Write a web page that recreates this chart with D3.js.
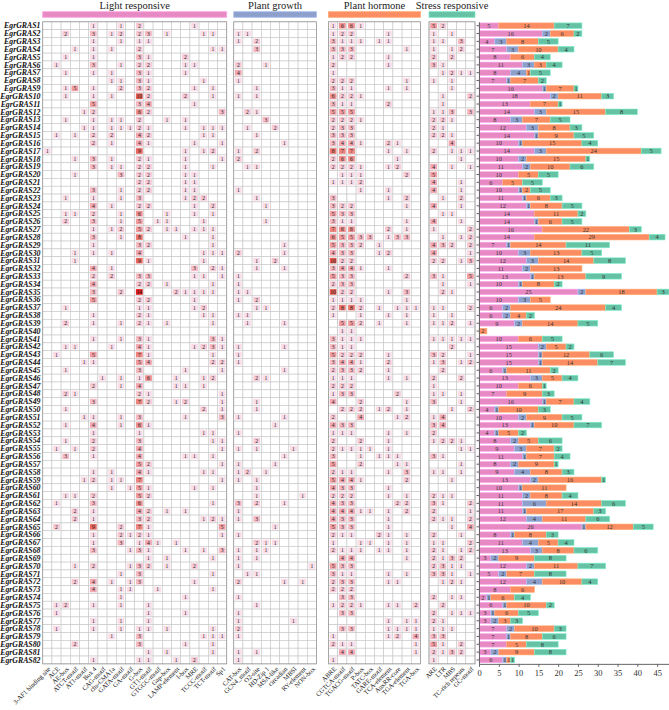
<!DOCTYPE html>
<html>
<head>
<meta charset="utf-8">
<title>EgrGRAS cis-acting elements</title>
<script src="https://d3js.org/d3.v7.min.js"></script>
<style>
  body { margin: 0; background: #fff; }
  svg { display: block; font-family: "Liberation Serif", "Times New Roman", serif; }
  .gene { font-size: 7.8px; font-weight: bold; font-style: italic; fill: #111; }
  .cnt { font-size: 5.6px; fill: #222; }
  .elem { font-size: 6.6px; fill: #111; }
  .head { font-size: 10.5px; fill: #222; }
  .seg { font-size: 6.4px; fill: #333; }
  .axis text { font-family: "Liberation Serif", serif; font-size: 8.5px; fill: #333; }
  .axis path, .axis line { stroke: #666; }
</style>
</head>
<body>
<div id="chart"></div>
<script>
// gene names (rows)
var genes = d3.range(1, 83).map(function(i) { return "EgrGRAS" + i; });

// cis-element names (columns) for each group
var groupNames = ["Light responsive", "Plant growth", "Plant hormone", "Stress responsive"];
var lightElements = ["3-AF1 binding site", "ACE", "AE-box", "ATCT-motif", "AT1-motif", "Box 4", "CAG-motif",
  "chs-CMA1a", "GATA-motif", "GA-motif", "G-box", "GT1-motif", "GTGGC-motif", "Gap-box", "LAMP-element",
  "I-box", "MRE", "TCCC-motif", "TCT-motif", "Sp1"];
var growthElements = ["CAT-box", "GCN4_motif", "O2-site", "HD-Zip 1", "MSA-like", "circadian", "MBSI",
  "RY-element", "NON-box"];
var hormoneElements = ["ABRE", "CGTCA-motif", "TGACG-motif", "P-box", "TATC-box", "GARE-motif",
  "TCA-element", "AuxRR-core", "TGA-element", "TGA-box"];
var stressElements = ["ARE", "LTR", "MBS", "TC-rich repeats", "GC-motif"];

// element counts per gene, one row per gene
var lightCounts = [
[0,0,0,0,0,1,0,0,1,0,2,0,0,0,0,0,1,0,0,0],[0,0,2,0,0,3,0,1,2,0,2,3,0,1,0,0,0,1,1,0],
[0,0,0,0,0,1,0,0,1,0,1,1,0,0,0,0,0,0,0,0],[0,0,0,1,0,1,0,1,0,0,2,0,0,0,0,0,0,0,1,1],
[0,0,1,0,0,1,0,0,0,0,3,1,0,0,0,2,0,0,0,0],[0,1,0,0,0,3,0,0,1,0,2,2,0,0,0,1,1,0,0,0],
[0,0,1,0,0,1,0,1,0,0,3,1,0,0,0,1,0,0,0,0],[0,0,0,0,0,0,0,1,1,0,3,1,0,0,0,0,0,1,0,0],
[0,0,1,5,0,1,0,0,2,0,3,2,0,0,0,0,1,0,1,0],[0,0,1,0,0,1,0,1,0,0,10,2,0,0,0,2,0,0,1,0],
[0,0,0,0,0,5,0,0,0,0,3,4,0,0,0,0,1,0,0,0],[0,0,0,0,1,2,0,0,0,0,6,2,0,0,0,0,0,0,0,3],
[0,0,1,0,0,1,0,1,1,0,2,0,0,1,0,1,0,0,0,0],[0,0,0,0,1,1,0,1,1,1,2,1,0,0,0,1,0,1,1,1],
[0,1,0,1,0,2,0,2,0,0,4,2,0,0,0,0,0,1,1,0],[0,0,0,0,0,2,0,1,0,0,4,1,0,0,0,0,1,0,0,1],
[1,0,0,0,0,0,0,0,0,0,9,0,0,0,0,1,0,1,2,0],[0,0,0,1,0,3,0,1,0,0,2,1,0,0,0,1,0,0,0,1],
[0,0,0,0,0,3,0,1,1,0,2,2,0,0,0,1,0,0,1,0],[0,0,0,1,0,0,0,0,3,0,2,2,0,0,0,1,1,0,0,0],
[0,0,0,0,0,0,0,0,0,0,2,2,0,0,0,1,1,0,0,0],[0,0,0,0,0,3,0,0,1,0,2,2,0,0,0,1,1,0,0,0],
[0,0,1,0,0,1,0,0,1,0,3,0,0,0,0,1,2,2,0,0],[0,0,0,0,0,4,0,1,0,0,2,2,0,0,0,0,1,0,2,0],
[0,0,1,1,0,2,0,0,1,0,6,0,0,1,0,0,1,0,1,0],[0,0,2,0,0,3,0,0,1,0,5,0,1,1,0,0,0,1,0,0],
[0,0,0,0,0,1,0,1,2,0,5,2,0,1,1,0,1,1,1,0],[0,0,0,0,0,3,0,0,1,0,8,0,0,0,0,1,0,0,1,0],
[0,0,0,0,0,1,0,0,0,0,3,2,0,0,0,0,0,0,1,0],[0,0,0,1,0,1,0,1,0,0,4,0,0,0,0,0,0,1,1,1],
[0,0,0,1,0,0,0,0,0,0,9,1,0,0,0,0,0,1,0,0],[0,0,0,0,0,4,0,1,0,0,0,0,0,0,0,0,3,0,2,1],
[0,0,0,0,0,2,0,2,0,0,3,3,0,0,0,0,1,1,0,1],[0,0,0,0,0,4,0,0,0,0,2,2,0,1,0,0,0,0,1,0],
[0,0,0,0,0,3,0,0,2,0,14,0,0,0,2,1,1,1,1,0],[0,0,0,0,0,5,0,0,0,0,2,2,0,0,0,0,1,0,0,0],
[0,0,1,0,0,0,0,0,0,0,1,1,0,0,0,0,1,2,0,0],[0,0,0,0,0,1,0,0,0,0,2,1,0,0,0,0,0,1,1,0],
[0,0,2,0,0,1,0,0,1,0,2,1,0,1,0,0,0,0,1,0],[0,0,0,0,0,0,0,0,0,0,0,0,0,0,0,0,0,0,0,0],
[0,0,0,0,0,1,0,0,1,0,3,1,0,0,0,0,0,0,3,1],[0,0,1,1,0,0,0,1,0,0,4,1,0,0,0,0,1,2,3,1],
[0,1,0,0,0,5,0,0,0,0,7,1,0,0,0,0,0,0,1,0],[0,0,0,0,1,1,0,0,0,0,5,4,0,0,0,0,0,0,2,2],
[0,0,1,0,0,0,0,0,0,0,3,0,0,0,0,1,0,0,0,1],[0,0,0,0,0,0,1,0,1,0,1,6,0,0,1,0,0,1,2,0],
[0,0,0,0,0,2,0,0,1,0,4,0,0,0,1,1,0,1,0,0],[0,0,2,1,0,0,0,0,0,0,2,1,0,0,0,0,0,0,0,1],
[0,0,0,0,0,3,0,0,0,0,7,2,0,0,1,2,0,0,0,1],[0,0,1,0,0,0,0,0,0,0,0,0,0,0,0,0,0,2,0,1],
[0,0,0,0,1,1,0,0,1,0,3,0,0,0,0,1,0,0,0,3],[0,0,1,0,0,4,0,0,1,0,6,1,0,0,0,0,0,0,0,0],
[0,0,0,0,0,1,0,0,0,0,1,0,0,0,0,0,0,1,1,0],[0,0,1,0,0,2,0,0,0,0,3,0,0,0,0,0,0,0,1,1],
[0,1,0,1,0,2,0,0,0,0,4,0,0,0,0,0,0,0,0,1],[0,0,3,0,0,1,0,0,0,0,4,0,0,0,0,1,1,0,1,0],
[0,0,0,0,0,0,0,0,0,0,5,2,0,0,0,0,0,0,0,1],[0,0,0,0,0,1,0,1,0,0,4,1,0,0,0,0,0,1,1,0],
[0,0,0,0,1,2,0,1,1,0,7,0,0,0,0,0,0,0,0,1],[0,0,0,0,0,0,0,1,0,1,5,1,0,0,0,0,1,0,1,0],
[0,0,1,1,0,2,0,0,0,0,5,2,0,0,0,0,0,0,0,0],[0,1,0,0,0,3,0,0,0,0,6,0,0,0,0,0,0,0,1,0],
[0,0,0,2,0,1,0,0,0,0,4,2,0,1,0,1,0,0,0,0],[0,0,0,2,0,1,0,0,0,0,3,2,0,0,0,0,0,1,2,1],
[0,2,0,0,0,9,0,0,2,0,7,1,0,0,0,0,0,0,0,5],[0,0,0,0,0,1,0,0,2,1,2,1,0,0,0,0,0,0,0,1],
[0,0,0,0,0,1,0,0,3,0,1,4,1,0,1,0,0,0,0,0],[0,0,0,0,0,3,0,0,0,1,3,1,0,0,0,1,0,1,0,3],
[0,0,0,0,0,0,0,0,0,0,0,1,0,1,0,0,0,0,1,0],[0,0,0,1,0,2,0,0,0,1,3,2,0,1,0,0,2,0,0,0],
[0,0,0,0,0,0,0,0,1,0,3,0,0,0,0,0,0,0,1,0],[0,0,0,2,0,4,0,1,0,1,3,0,0,0,0,0,1,0,0,0],
[0,0,0,0,0,4,0,0,1,1,0,0,1,0,0,0,0,0,1,0],[0,0,0,0,0,0,0,0,1,0,0,0,0,0,0,1,0,0,0,0],
[0,1,2,0,0,1,0,0,1,0,0,1,0,0,0,0,0,0,0,0],[0,1,0,0,0,0,0,0,0,0,0,1,0,0,0,1,0,0,0,0],
[0,0,0,0,0,1,0,0,1,0,0,1,0,0,0,0,0,0,0,0],[0,1,0,0,0,1,0,0,1,0,1,1,0,1,0,0,0,0,1,0],
[0,0,0,0,0,0,0,1,0,0,3,0,0,0,0,0,0,1,1,1],[0,0,0,2,0,0,0,0,0,0,3,0,0,0,0,1,0,0,1,0],
[0,0,0,0,0,0,0,0,0,0,0,1,0,1,0,0,0,0,1,0],[0,0,0,0,0,1,0,0,0,0,1,1,0,0,1,0,2,0,0,0]
];

var growthCounts = [
[0,0,0,0,0,0,0,0,0],[1,1,0,0,0,0,0,0,0],[1,0,2,0,0,0,0,0,0],[0,0,3,0,0,0,0,0,0],
[0,0,0,0,0,0,0,0,0],[2,0,0,1,0,0,0,0,0],[4,0,0,0,0,0,0,0,0],[1,0,0,0,0,0,0,0,0],
[0,0,1,0,0,0,0,0,0],[1,0,1,0,0,0,0,0,0],[0,0,0,0,0,0,0,0,0],[0,2,1,0,0,0,0,0,0],
[0,0,0,3,0,0,0,0,0],[0,1,0,0,2,0,0,0,0],[0,0,1,0,0,0,0,0,0],[0,0,0,0,0,1,0,0,0],
[1,0,2,0,0,0,0,0,0],[2,0,0,0,0,0,0,0,0],[0,1,1,0,0,0,0,0,0],[0,0,0,0,0,0,0,0,0],
[0,0,0,0,0,0,0,0,0],[1,0,0,0,0,0,0,0,0],[0,0,1,0,0,0,0,0,0],[0,0,0,1,0,0,0,0,0],
[0,0,0,0,0,0,0,0,0],[0,0,0,1,0,0,0,0,0],[0,0,0,0,0,0,0,0,0],[0,0,0,0,0,0,0,0,0],
[0,0,0,0,0,1,0,0,0],[2,0,0,0,0,1,0,0,0],[0,0,1,0,2,0,0,0,0],[0,0,1,0,0,1,0,0,0],
[1,0,0,0,0,0,0,0,0],[1,0,0,0,0,0,0,0,0],[1,1,0,0,0,0,0,0,0],[1,0,2,0,0,0,0,0,0],
[0,0,1,1,0,0,0,0,0],[1,1,0,0,0,0,0,0,0],[0,1,0,0,0,1,0,0,0],[0,0,0,0,0,0,0,0,0],
[0,0,0,0,0,0,0,0,0],[1,0,0,0,0,1,0,0,0],[1,0,0,0,0,0,0,0,0],[1,0,0,0,0,0,0,0,0],
[0,0,0,0,0,1,0,0,0],[0,0,2,1,0,0,0,0,0],[0,0,0,0,0,0,0,0,0],[0,0,0,0,0,0,0,0,0],
[0,0,1,0,0,0,0,0,0],[0,0,1,0,0,0,0,0,0],[1,0,0,0,0,1,0,0,0],[0,0,0,0,1,0,0,0,0],
[1,0,0,0,0,0,0,0,0],[0,0,2,0,0,0,0,0,0],[1,0,1,0,0,0,1,0,0],[0,0,0,0,0,1,0,0,0],
[1,0,0,0,1,0,0,0,0],[1,2,0,1,0,0,0,0,0],[1,0,1,0,0,0,0,0,0],[0,0,1,0,0,0,0,0,0],
[0,0,1,0,0,0,0,1,0],[3,0,2,0,0,1,0,0,0],[1,0,0,0,0,0,0,0,0],[1,0,3,0,0,0,0,0,0],
[0,0,0,0,1,0,0,0,0],[1,0,0,0,0,0,0,0,0],[0,0,2,1,1,0,0,0,0],[1,0,1,1,0,0,0,0,0],
[1,0,1,0,0,0,0,0,0],[1,0,0,0,0,0,0,0,1],[0,1,1,0,0,0,0,0,0],[2,0,0,0,0,1,0,1,0],
[0,0,0,0,0,0,0,0,0],[1,0,0,0,0,0,0,0,0],[0,0,1,0,0,0,0,0,0],[1,0,0,0,0,0,0,0,0],
[1,0,0,0,0,0,1,0,0],[2,0,0,0,0,0,0,0,0],[1,0,0,0,0,0,0,0,0],[0,0,0,0,0,0,0,0,0],
[1,0,1,0,0,0,0,0,0],[1,0,0,0,0,0,0,0,0]
];

var hormoneCounts = [
[1,6,6,1,0,0,0,0,0,0],[1,2,2,0,0,0,1,0,0,0],[3,1,1,1,0,1,1,0,0,0],[3,3,3,0,0,0,0,0,1,0],
[1,2,2,0,0,0,1,0,0,0],[2,0,0,0,0,0,1,0,0,0],[1,0,0,0,0,0,0,0,0,0],[2,2,2,0,0,0,0,0,1,0],
[3,1,1,0,0,0,1,0,1,0],[6,2,2,1,0,0,0,0,0,0],[3,1,1,0,0,0,2,0,0,0],[5,5,5,0,0,0,0,0,0,0],
[2,2,2,1,0,0,0,0,0,0],[2,3,3,0,0,0,0,0,0,0],[3,3,3,0,0,0,0,0,0,0],[3,4,4,1,0,0,2,1,0,0],
[8,7,7,0,0,0,1,0,1,0],[2,6,6,0,0,0,0,1,0,0],[2,2,2,1,0,0,1,2,0,0],[0,1,1,1,0,0,0,0,2,0],
[1,1,1,2,0,0,0,0,0,0],[0,0,0,1,0,0,1,0,0,0],[3,0,0,0,0,0,1,0,2,0],[3,2,2,0,0,0,0,0,1,0],
[5,3,3,0,0,0,0,0,0,0],[3,1,1,0,0,0,0,0,1,0],[7,6,6,0,0,0,2,0,1,0],[6,5,5,3,3,0,1,3,3,0],
[5,3,3,2,0,1,0,0,0,0],[4,3,3,0,0,1,2,0,0,0],[10,2,2,0,0,0,0,0,0,0],[3,4,4,1,0,0,1,0,0,0],
[5,3,3,0,0,0,0,0,2,0],[2,3,3,0,0,0,0,0,0,0],[10,2,2,0,0,0,1,0,3,0],[1,1,1,1,0,0,0,0,1,0],
[2,8,8,2,0,1,0,1,1,1],[1,0,0,1,0,0,1,0,1,0],[0,5,5,2,0,1,0,0,1,0],[0,1,1,0,0,0,0,0,0,0],
[3,1,1,1,0,0,0,0,0,0],[3,1,1,0,0,0,0,0,0,0],[5,2,2,2,0,0,1,0,0,0],[3,4,4,1,0,0,2,0,0,0],
[2,3,3,2,0,0,1,0,0,0],[1,1,1,0,0,0,1,0,1,0],[2,2,2,0,0,0,0,0,0,0],[1,3,3,0,0,0,0,2,0,0],
[4,0,0,2,0,0,0,0,1,0],[0,2,2,2,0,1,2,0,1,0],[2,0,0,4,0,0,0,1,2,0],[4,3,3,0,0,0,0,0,0,0],
[1,1,1,0,0,0,1,0,1,0],[2,0,0,2,0,0,1,0,0,0],[2,1,1,1,1,0,1,0,0,0],[3,0,0,1,0,1,1,1,0,0],
[5,0,0,2,0,0,0,1,1,0],[2,1,1,0,0,0,1,0,3,0],[5,4,4,1,0,0,0,0,2,0],[4,3,3,0,0,0,1,0,0,0],
[2,2,2,0,0,0,1,0,1,0],[4,3,3,0,0,0,0,2,2,0],[4,4,4,1,1,0,1,0,2,0],[4,3,3,0,0,0,1,0,0,0],
[5,3,3,0,0,0,1,0,0,0],[2,1,1,0,0,2,1,0,1,0],[1,0,0,1,1,0,1,0,1,0],[2,1,1,1,0,1,1,0,1,0],
[0,4,4,0,0,0,0,0,1,0],[5,3,3,0,0,0,0,0,0,0],[3,1,1,0,0,0,1,0,1,0],[2,3,3,0,0,0,1,1,0,0],
[2,2,2,0,0,0,0,0,0,0],[0,3,3,0,0,0,0,0,0,0],[1,2,2,1,0,0,1,1,0,2],[0,3,3,0,0,0,0,0,0,0],
[0,0,0,0,0,0,1,0,1,1],[0,3,3,0,0,0,1,1,1,1],[1,0,0,0,0,0,1,2,0,4],[2,1,1,0,0,0,0,0,0,1],
[0,4,4,0,0,0,0,0,0,1],[1,0,0,0,0,0,0,0,0,0]
];

var stressCounts = [
[5,2,0,0,0],[1,0,1,0,0],[1,1,0,3,0],[1,0,1,2,0],[2,0,2,0,0],[3,1,0,0,0],[0,1,2,1,1],
[1,0,1,0,0],[0,0,1,0,0],[0,1,0,0,2],[0,1,0,0,0],[1,1,3,0,3],[2,2,1,0,0],[2,1,0,0,0],
[2,2,1,0,0],[0,0,4,0,0],[2,0,1,1,1],[0,0,0,1,0],[4,0,1,0,1],[5,0,0,0,0],[4,0,0,1,0],
[4,0,0,1,0],[0,1,0,2,0],[4,0,0,1,0],[0,1,1,0,0],[4,0,0,1,0],[1,0,0,0,2],[0,1,0,1,2],
[4,3,2,0,2],[4,0,0,0,1],[2,2,0,1,3],[0,0,0,0,0],[3,1,0,0,5],[0,1,0,0,1],[0,2,1,0,0],
[0,0,0,0,0],[1,1,0,0,2],[1,0,1,0,0],[1,1,2,0,1],[0,0,0,0,0],[1,1,1,1,1],[0,0,2,0,0],
[3,2,0,0,1],[1,3,0,1,2],[0,2,0,0,0],[2,0,0,2,0],[1,0,0,0,0],[1,1,0,1,0],[3,0,0,1,0],
[0,0,1,0,2],[1,4,0,0,0],[3,4,0,0,0],[2,0,0,0,0],[1,2,2,1,0],[0,0,0,1,1],[3,1,0,0,0],
[0,0,0,1,0],[1,1,0,1,0],[0,0,1,0,0],[0,0,0,0,0],[2,1,1,0,0],[3,1,0,0,2],[2,0,0,0,1],
[2,1,1,0,2],[0,0,1,0,4],[2,0,0,1,0],[1,1,0,0,2],[2,1,0,1,2],[2,1,3,2,0],[2,3,1,1,0],
[3,3,1,0,1],[0,1,2,1,0],[0,0,0,0,0],[2,0,1,1,0],[0,2,0,0,0],[2,0,1,1,1],[2,1,0,0,0],
[1,1,1,0,0],[3,3,0,0,0],[5,1,0,2,0],[2,1,3,2,0],[1,0,0,0,0]
];

var freqTicks = [0, 5, 10, 15, 20, 25, 30, 35, 40, 45];

// ---- layout ----
var width = 669, height = 710;
var gridTop = 21.8, rowH = 7.83, cellW = 9.2;
var gridBottom = gridTop + genes.length * rowH;
var groupLeft = [42.7, 233.7, 328.5, 429];
var groupColors = ["#e78ac3", "#8da0cb", "#fc8d62", "#66c2a5"];
var groupKeys = ["Light", "Growth", "Hormone", "Stress"];

var groups = [
  { name: groupNames[0], key: groupKeys[0], elements: lightElements, counts: lightCounts },
  { name: groupNames[1], key: groupKeys[1], elements: growthElements, counts: growthCounts },
  { name: groupNames[2], key: groupKeys[2], elements: hormoneElements, counts: hormoneCounts },
  { name: groupNames[3], key: groupKeys[3], elements: stressElements, counts: stressCounts }
];
groups.forEach(function(g, i) {
  g.color = groupColors[i];
  g.x = d3.scaleBand().domain(g.elements)
    .range([groupLeft[i], groupLeft[i] + g.elements.length * cellW]);
});

var y = d3.scaleBand().domain(genes).range([gridTop, gridBottom]);

var heat = d3.scaleLinear()
  .domain([1, 2, 4, 7, 10, 14])
  .range(["#fbdde9", "#f8cad7", "#f3a9b3", "#ee8580", "#e85a50", "#e31a1c"])
  .clamp(true);

var svg = d3.select("#chart").append("svg")
  .attr("width", width)
  .attr("height", height);

// ---- headers ----
groups.forEach(function(g) {
  var r = g.x.range();
  svg.append("text").attr("class", "head")
    .attr("x", (r[0] + r[1]) / 2).attr("y", 8.8)
    .attr("text-anchor", "middle")
    .text(g.name);
  svg.append("rect")
    .attr("x", r[0]).attr("y", 11.7)
    .attr("width", r[1] - r[0]).attr("height", 5.6)
    .attr("fill", g.color)
    .attr("stroke", d3.color(g.color).brighter(0.5))
    .attr("stroke-width", 0.8);
});

// ---- gene labels ----
svg.append("g").selectAll("text")
  .data(genes)
  .enter().append("text")
  .attr("class", "gene")
  .attr("x", 40.5)
  .attr("y", function(d) { return y(d) + rowH / 2; })
  .attr("dy", "0.35em")
  .attr("text-anchor", "end")
  .text(function(d) { return d; });

// ---- heatmap cells ----
groups.forEach(function(g) {
  var cells = [];
  genes.forEach(function(gene, i) {
    g.elements.forEach(function(el, j) {
      cells.push({ gene: gene, el: el, v: g.counts[i][j] });
    });
  });
  var layer = svg.append("g");

  layer.selectAll(".cell")
    .data(cells)
    .enter().append("rect")
    .attr("x", function(d) { return g.x(d.el); })
    .attr("y", function(d) { return y(d.gene); })
    .attr("width", cellW).attr("height", rowH)
    .attr("fill", "#fff")
    .attr("stroke", "#c6c6c6")
    .attr("stroke-width", 0.6);

  var filled = cells.filter(function(d) { return d.v > 0; });
  layer.selectAll(".fill")
    .data(filled)
    .enter().append("rect")
    .attr("x", function(d) { return g.x(d.el) + 1.2; })
    .attr("y", function(d) { return y(d.gene) + 1.1; })
    .attr("width", cellW - 2.4).attr("height", rowH - 2.2)
    .attr("fill", function(d) { return heat(d.v); });

  layer.selectAll(".cnt")
    .data(filled)
    .enter().append("text")
    .attr("class", "cnt")
    .attr("x", function(d) { return g.x(d.el) + cellW / 2; })
    .attr("y", function(d) { return y(d.gene) + rowH / 2; })
    .attr("dy", "0.36em")
    .attr("text-anchor", "middle")
    .text(function(d) { return d.v; });

  var r = g.x.range();
  layer.append("rect")
    .attr("x", r[0]).attr("y", gridTop)
    .attr("width", r[1] - r[0]).attr("height", gridBottom - gridTop)
    .attr("fill", "none").attr("stroke", "#9a9a9a").attr("stroke-width", 0.8);

  // rotated element names
  svg.append("g").selectAll("text")
    .data(g.elements)
    .enter().append("text")
    .attr("class", "elem")
    .attr("text-anchor", "end")
    .attr("transform", function(d) {
      return "translate(" + (g.x(d) + cellW / 2 + 2) + "," + (gridBottom + 4) + ") rotate(-45)";
    })
    .attr("dy", "0.35em")
    .text(function(d) { return d; });
});

// ---- stacked frequency bars ----
var table = genes.map(function(gene, i) {
  var row = { gene: gene };
  groups.forEach(function(g) { row[g.key] = d3.sum(g.counts[i]); });
  return row;
});

var xb = d3.scaleLinear().domain([0, 48]).range([479, 669]);
var stack = d3.stack().keys(groupKeys)(table);
var barH = rowH * 0.72;

var bars = svg.append("g");
stack.forEach(function(layerData, k) {
  var col = groupColors[k];
  var gl = bars.append("g");
  gl.selectAll("rect")
    .data(layerData.filter(function(d) { return d[1] > d[0]; }))
    .enter().append("rect")
    .attr("x", function(d) { return xb(d[0]); })
    .attr("y", function(d) { return y(d.data.gene) + (rowH - barH) / 2; })
    .attr("width", function(d) { return xb(d[1]) - xb(d[0]); })
    .attr("height", barH)
    .attr("fill", col)
    .attr("stroke", d3.color(col).brighter(0.6))
    .attr("stroke-width", 0.6);
  gl.selectAll("text")
    .data(layerData.filter(function(d) { return d[1] > d[0]; }))
    .enter().append("text")
    .attr("class", "seg")
    .attr("x", function(d) { return (xb(d[0]) + xb(d[1])) / 2; })
    .attr("y", function(d) { return y(d.data.gene) + rowH / 2; })
    .attr("dy", "0.36em")
    .attr("text-anchor", "middle")
    .text(function(d) { return d[1] - d[0]; });
});

svg.append("g")
  .attr("class", "axis")
  .attr("transform", "translate(0," + gridBottom + ")")
  .call(d3.axisBottom(xb).tickValues(freqTicks).tickSize(3).tickSizeOuter(0));

svg.append("g")
  .attr("class", "axis")
  .attr("transform", "translate(479,0)")
  .call(d3.axisLeft(y).tickFormat("").tickSize(2.5).tickSizeOuter(0));
</script>
</body>
</html>
